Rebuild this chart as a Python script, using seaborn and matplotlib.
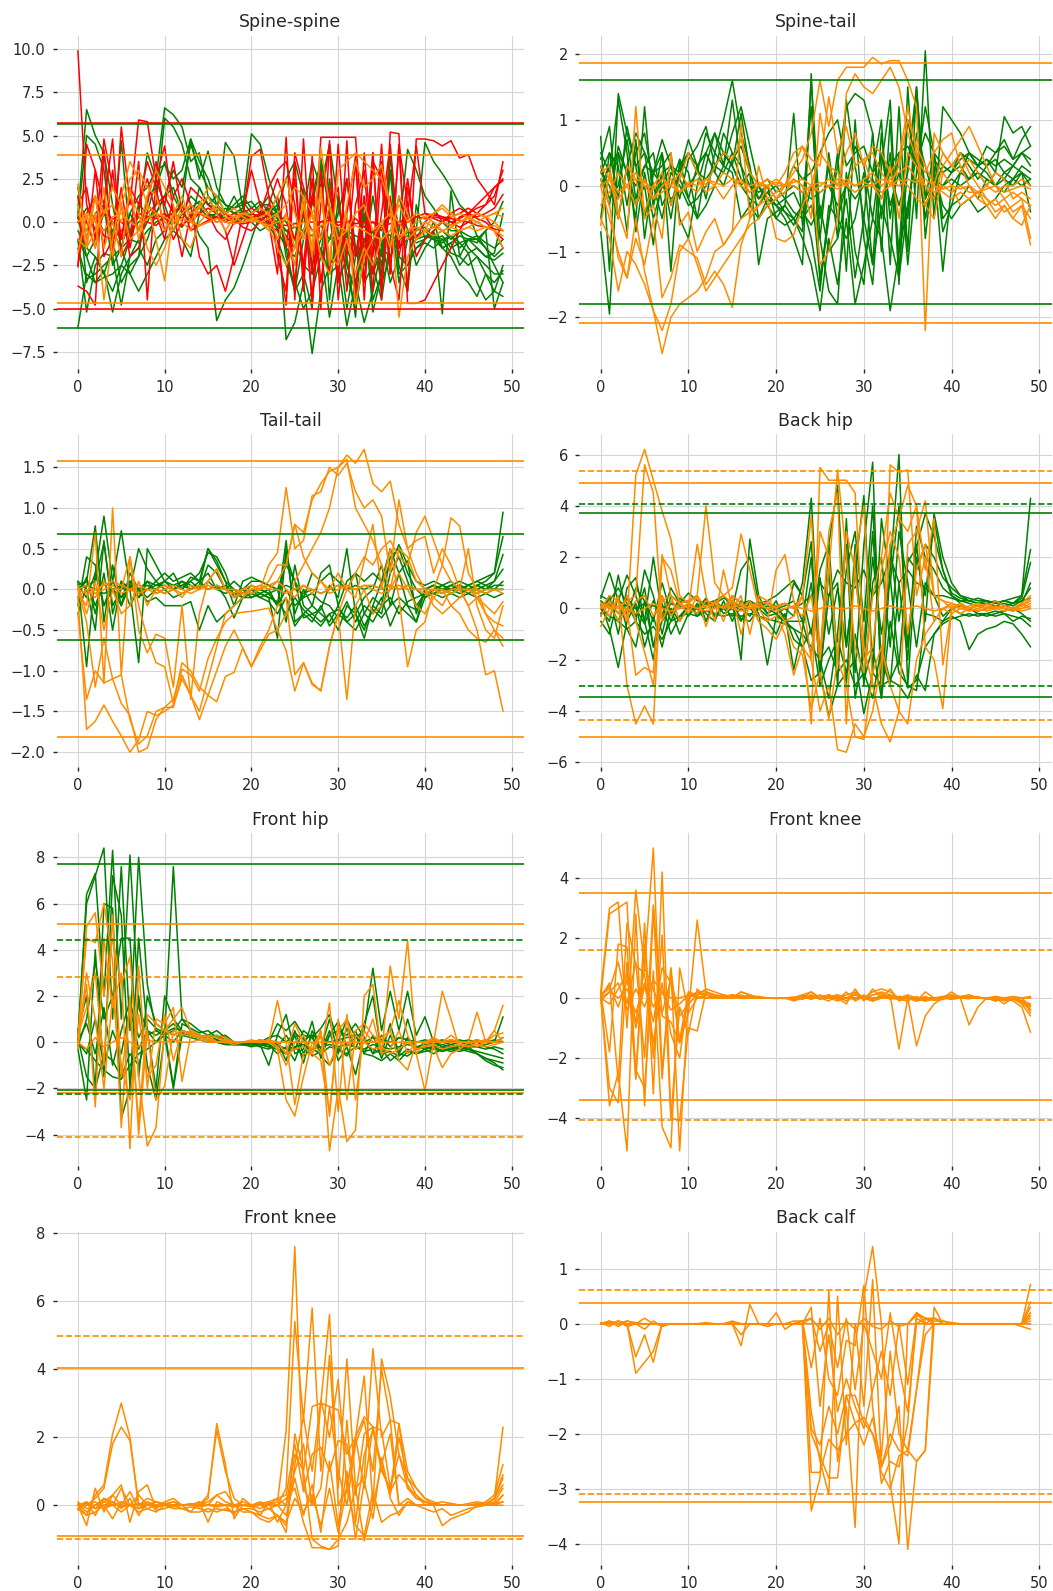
import numpy as np
import pandas as pd
import matplotlib
matplotlib.use("Agg")
import matplotlib.pyplot as plt
from matplotlib.ticker import MultipleLocator
import seaborn as sns

GREEN = "#008000"
RED = "#ff0000"
ORANGE = "#ff8c00"

TITLES = ["Spine-spine", "Spine-tail", "Tail-tail", "Back hip",
          "Front hip", "Front knee", "Front knee", "Back calf"]
Y_STEPS = [2.5, 1, 0.5, 2, 2, 2, 2, 1]

# ---------------- Spine-spine ----------------
SPINE_SPINE_GREEN = [
    [-6.1, -3.0, -3.5, -2.8, -5.2, -3.0, -2.0, -1.5, -2.5, -1.0,
     -0.5, 0.3, 1.0, 0.5, -0.8, -1.5, -5.7, -4.5, -3.8, -2.5,
     -1.0, 0.5, 0.8, 0.2, -6.8, -5.8, -3.5, -7.6, -4.0, -2.5,
     -1.5, -0.8, -2.0, -1.0, -3.0, -1.5, -2.0, -1.0, -0.8, -1.2,
     -1.0, -0.6, -1.5, -1.2, -2.5, -1.8, -3.5, -4.5, -4.0, -4.3],
    [0.5, 6.5, 5.0, 4.0, 1.0, -1.5, -3.0, -2.0, -1.0, 0.5,
     1.5, 3.0, 2.0, 4.5, 3.0, 2.0, 1.5, 1.0, 0.8, 1.2,
     0.5, 0.8, 1.5, 0.5, -1.0, -2.5, 0.5, 3.5, 2.0, 4.5,
     1.0, -1.5, -3.0, -1.0, -0.5, -2.0, 4.0, -1.0, 0.5, -0.5,
     4.6, 3.5, 2.8, 2.0, 1.0, 0.5, -0.8, -1.5, -2.5, -3.5],
    [1.5, -3.5, -2.0, -3.0, -1.5, 4.7, -1.0, 0.5, 4.0, 2.5,
     6.6, 6.2, 5.5, 3.5, 4.0, 1.5, 0.5, 4.6, 3.8, 0.8,
     5.1, 4.5, 2.5, 1.0, -1.5, -4.0, -3.0, -5.0, 3.7, 0.5,
     -3.5, -2.0, -5.5, 1.5, -4.5, -3.0, 3.9, -2.5, -4.0, 1.0,
     -1.0, -0.5, -5.3, 1.8, -2.0, -1.0, -1.5, -2.0, -1.8, 0.5],
    [-1.0, -5.2, -2.5, -1.8, -2.0, -4.8, -2.0, -1.0, 0.0, 1.0,
     6.0, 5.5, 4.5, 2.5, 2.0, 1.0, 0.8, 0.5, 1.5, 0.5,
     0.0, -0.5, -0.2, 0.8, 2.5, 3.5, 1.5, -3.0, -1.5, -5.5,
     -2.5, -0.5, -1.5, -2.5, -1.0, -3.5, -2.0, -0.5, 4.2, 3.0,
     1.5, 0.8, 0.0, -0.5, -0.5, -1.5, -2.0, -3.0, -4.0, -2.5],
    [0.2, 5.0, 4.5, 3.0, -1.0, -3.5, -2.5, -2.0, 1.5, 2.0,
     3.5, 1.5, 0.5, 0.0, 2.0, 1.0, 1.5, 0.5, 0.2, 0.0,
     0.5, 0.3, 0.8, -0.5, -1.5, -2.0, -0.5, 1.0, 3.5, 1.5,
     -0.5, -3.0, -5.0, -2.0, 1.5, -1.5, 0.8, -3.5, -1.0, -0.5,
     -0.3, -1.0, -1.2, -0.8, -1.5, -1.0, -1.0, -1.5, -2.0, -1.5],
    [-0.5, -1.5, -2.0, -3.0, -4.0, -2.5, -1.0, 1.0, 0.5, 2.5,
     1.0, -0.5, -1.0, -2.0, 0.5, 1.5, 1.0, 0.5, 0.8, 1.0,
     1.2, 0.5, -0.2, -1.0, -2.5, -3.5, -5.0, -4.0, -2.0, -1.0,
     0.5, 2.5, -1.5, -3.5, -2.5, -4.5, -1.0, 1.5, -0.5, -2.5,
     -1.5, -0.8, -0.5, -1.0, -0.5, -0.8, -1.0, -0.5, 0.0, 1.2],
    [0.0, 0.8, 0.2, -0.5, 0.0, -1.0, -0.5, 0.0, 0.3, 0.5,
     0.2, 0.0, -0.3, 0.5, 0.8, 0.3, 0.5, 0.2, 0.0, 0.3,
     0.5, 0.2, 0.0, -0.3, -0.5, -0.3, -0.5, -0.8, -0.2, -1.0,
     -0.8, -0.5, -0.8, -1.0, -0.5, -0.3, -0.8, -1.0, -0.5, -0.3,
     -0.5, -0.8, -1.0, -0.8, -1.2, -1.0, -0.8, -1.2, -1.5, -1.0],
    [-1.5, -3.3, -3.0, -2.5, -2.0, -1.5, -1.0, -1.2, -0.5, 0.0,
     0.3, 0.5, 1.0, 4.8, 2.5, 4.1, 2.0, 1.0, 0.5, 0.8,
     0.3, 0.0, 0.5, 1.0, -2.0, -4.0, -1.0, 1.5, 3.5, -4.5,
     1.5, -2.5, -4.0, 0.5, -2.5, -1.0, -3.5, -2.0, -2.5, -1.5,
     -1.0, 0.0, -1.5, -2.0, -3.0, -3.5, -4.3, -3.0, -3.5, -2.8],
    [2.0, -1.0, 0.5, 1.0, -2.5, -1.5, 0.5, 1.5, 2.0, 3.0,
     3.3, 2.5, 3.0, 4.8, 3.5, 2.5, 1.0, 0.5, 1.0, 1.5,
     0.8, 1.2, 0.6, 0.2, -0.5, -1.0, 2.0, 0.5, -2.0, 2.5,
     -1.0, -5.0, -2.0, 0.5, -5.2, -3.0, 3.0, -1.5, -0.5, -1.0,
     -0.8, -1.0, -1.5, -1.2, -0.8, -1.0, -1.2, -0.5, -5.0, -3.5],
    [-1.0, -2.0, -3.5, -3.2, -3.0, -2.5, -3.0, -4.0, -3.0, -2.0,
     -1.0, -0.5, 0.5, 1.5, 1.0, 0.5, 0.2, 0.5, 0.0, 0.3,
     0.5, 1.0, 1.0, 0.5, 0.0, -1.0, -2.5, -3.0, -1.5, -3.0,
     -2.5, -6.0, -3.5, -5.8, -4.0, -1.5, 3.0, -3.0, -2.5, -1.5,
     -1.2, -1.5, -1.0, -1.8, -2.0, -2.5, -2.0, -2.5, -3.0, -3.0],
    [0.3, -2.0, -1.0, 0.5, -0.5, -1.5, 0.5, -0.5, 1.0, 0.5,
     1.5, 2.0, 0.5, 0.8, 1.2, 0.5, 0.3, 0.8, 0.5, 0.6,
     0.2, 0.5, 0.3, 0.0, -0.8, -1.5, 0.5, -2.5, -1.0, 0.8,
     -2.0, -0.5, -3.5, -1.5, -0.5, -2.5, 1.0, -1.5, -1.0, -0.8,
     -0.5, -1.0, -0.8, -1.5, -1.2, -1.8, -1.5, -2.0, -2.2, -1.8],
]
SPINE_SPINE_RED = [
    [9.9, 1.0, -0.5, 0.5, 0.2, 0.0, -0.5, 0.3, 0.0, -0.2,
     0.3, 0.5, 0.2, 0.0, -0.2, 0.1, 0.3, 0.2, 0.0, -0.1,
     0.0, 0.2, 0.0, -0.1, -0.2, -0.1, 0.0, 0.0, 0.0, 0.1,
     0.0, 0.0, -0.1, 0.0, 0.0, -0.2, -0.1, 0.0, 0.2, 0.3,
     0.5, 0.4, 0.3, 0.2, 0.1, 0.0, -0.2, -0.3, -0.4, -0.5],
    [-3.7, -4.0, -4.8, 4.2, -2.0, 5.5, 1.0, 5.9, 5.8, 2.5,
     1.0, 3.5, 0.5, 1.0, -2.0, -3.0, -2.5, -4.0, -2.0, 0.5,
     3.0, 1.0, 0.0, -3.0, 4.9, -4.5, 4.8, -3.0, 4.9, 4.9,
     4.9, 4.9, 4.9, -2.0, 4.0, -4.5, 5.2, 5.1, -4.7, -4.7,
     -4.5, -3.5, -2.5, -1.5, -0.5, 0.5, 1.0, 1.5, 2.0, 2.4],
    [-2.6, 4.5, 3.0, 1.0, 4.8, -2.0, -1.0, 3.5, -4.5, 2.5,
     4.4, 0.5, -2.0, 0.5, 1.0, 0.5, -0.5, -1.0, 0.0, 0.5,
     0.2, 0.5, 0.3, -1.0, -4.8, 3.5, -4.0, 3.8, -5.0, 4.7,
     -3.5, 4.7, -4.5, 4.0, -2.0, 4.5, -3.0, 4.4, -4.0, 4.8,
     4.8, 4.7, 4.4, 4.7, 3.7, 3.9, 2.5, 1.8, 1.0, 3.5],
    [0.5, -1.5, 3.0, -2.0, -1.0, 2.0, -1.5, 1.0, 2.5, 0.5,
     -1.0, 1.5, 2.5, 1.0, 0.5, 0.8, 0.5, -0.5, -2.5, -1.0,
     0.5, 0.3, 1.0, 2.5, 1.0, -3.5, 1.5, -4.5, 3.0, -3.0,
     4.5, -2.0, 3.5, -3.5, 4.0, -4.0, 1.5, -2.0, 0.5, 4.4,
     0.5, 0.2, 0.0, -0.2, 0.3, 0.5, 0.8, 1.0, 1.5, 3.0],
    [1.0, 2.0, -1.0, 4.8, 2.0, 1.0, -2.0, -1.5, 0.5, 1.0,
     1.5, 0.5, 0.2, 0.0, 0.5, 0.3, 0.0, 0.2, 0.5, 0.3,
     3.8, 4.2, 1.5, -2.0, -4.0, 4.0, 2.0, -4.8, 1.0, 4.5,
     -4.5, 0.5, 3.8, -4.5, 3.5, 2.5, -3.0, 4.5, 1.0, -2.0,
     -1.0, -0.5, 0.0, 0.5, 0.8, 0.5, 0.2, 0.0, -0.5, -1.0],
    [0.0, -0.5, 0.3, -0.8, -1.0, -0.5, 0.0, 0.5, 0.3, 0.2,
     0.5, 0.0, -0.2, 0.3, 0.5, 0.2, 0.3, 0.0, -0.1, 0.2,
     0.3, 0.1, -0.2, -0.5, 0.5, -1.0, 0.5, -0.5, 0.0, 0.3,
     -0.2, 0.0, 0.2, -0.3, 0.0, -0.5, 0.3, -0.2, 0.0, 0.3,
     0.2, 0.3, 0.2, 0.0, 0.2, 0.5, 0.3, 0.5, 0.8, 1.6],
    [-2.5, 0.5, 1.5, -1.5, 3.0, -1.0, 1.5, -0.5, 1.0, 3.5,
     0.5, -1.0, 0.0, 2.0, 1.5, 1.0, 0.5, 0.0, 0.3, 0.5,
     0.8, 0.5, 2.0, 3.0, 3.5, 1.0, -2.5, 2.5, -3.5, 0.5,
     2.0, -4.0, 1.0, 3.0, -3.0, 0.5, 4.5, -1.5, 2.5, -1.0,
     0.0, 0.5, 0.3, 0.0, -0.3, 0.0, 0.5, 1.0, 2.0, 2.5],
    [1.5, 0.0, -1.5, 1.0, 0.0, -1.0, 2.0, 1.0, 3.5, 2.0,
     -0.5, 0.5, 1.0, -0.5, -0.2, 0.0, 0.3, 0.5, 0.2, -0.3,
     -0.5, 0.0, 0.5, 1.5, -1.5, 2.5, -3.0, 1.5, -1.0, 2.0,
     -1.5, 2.5, -2.0, 1.5, -4.0, 3.5, -2.5, -4.5, 2.0, -1.0,
     -0.5, -0.3, 0.0, 0.3, 0.5, 0.8, 0.5, 0.3, -0.5, -1.5],
]
SPINE_SPINE_ORANGE = [
    [2.2, -1.0, 0.5, -4.5, -1.0, 1.5, 3.5, 2.5, 1.0, -1.0,
     -3.4, 0.5, 1.5, 0.0, 1.0, 0.5, 0.8, 0.3, 0.0, 0.5,
     0.3, 0.0, -0.5, 0.5, -1.0, -2.5, 1.5, -1.5, 4.3, 1.0,
     -2.0, 1.0, 3.5, 2.0, 2.5, 3.3, 1.0, -5.5, -2.0, -1.0,
     -0.5, 0.5, 1.0, 0.5, 0.0, 0.3, 0.5, 0.3, 0.0, -0.5],
    [-1.8, 0.5, -1.5, 2.0, -2.0, 1.0, 2.5, 3.0, 2.0, 1.5,
     0.0, -0.5, 1.0, 0.5, 0.8, 1.5, 0.5, -0.5, 0.3, 0.5,
     0.5, 0.8, 0.5, -1.0, 0.5, -1.5, 1.0, -2.0, 2.0, -2.5,
     3.0, 3.5, 4.0, 3.5, 3.0, 2.5, 1.0, -1.0, -0.5, 0.0,
     0.3, 0.5, 0.8, 0.3, 0.5, 0.3, 0.0, -0.3, -0.5, -0.8],
    [0.5, -0.5, 1.5, -1.5, 0.0, -2.0, 2.0, -1.0, 1.0, 0.5,
     -0.5, 0.5, 0.0, -0.5, 1.0, 2.0, 1.5, 0.5, 0.3, 0.0,
     0.2, 0.0, -0.3, -1.5, -2.5, -1.5, -0.5, 0.5, -1.0, 1.0,
     -1.0, -0.5, 0.5, 1.0, -0.5, 0.0, -1.5, 1.5, 0.5, -1.0,
     -0.5, -0.3, 0.0, -0.2, 0.0, 0.2, 0.0, -0.3, -0.5, -1.5],
    [-1.0, -1.5, -0.5, 0.5, 1.0, 0.0, 1.5, 0.5, -1.5, -2.5,
     -1.5, 0.0, 0.5, 1.0, 0.5, 0.3, 0.0, 0.2, 0.3, 0.5,
     0.3, 0.0, 0.2, 0.5, 1.0, 2.0, 1.5, 0.5, -2.0, -3.0,
     -1.5, 0.5, -4.8, -2.0, -1.0, 0.0, 0.5, 0.0, -1.0, -0.5,
     0.0, -0.3, -0.5, -0.3, 0.0, 0.3, 0.5, 0.3, 0.5, 0.8],
    [0.0, 0.5, 0.0, -0.5, 0.3, 0.5, 0.0, -0.3, 0.2, 0.5,
     0.3, 0.0, 0.2, 0.0, -0.2, 0.0, 0.2, 0.0, -0.1, 0.0,
     0.1, 0.0, -0.2, 0.0, 0.2, -0.3, 0.0, -0.5, -0.2, 0.0,
     -0.3, -0.5, -0.2, -0.5, -0.8, -1.0, -0.5, -0.8, -0.5, -0.3,
     -0.5, -0.8, -0.5, -0.3, -0.5, -0.3, -0.5, -0.3, -0.2, -0.5],
    [1.0, -1.5, 1.5, 0.5, 2.0, 1.0, -1.0, -0.5, 1.5, 3.0,
     2.0, 1.0, -1.0, -1.5, 0.0, 0.5, 1.0, 0.5, 0.8, 0.3,
     0.0, 0.3, 0.5, 1.5, 2.5, 0.5, -1.0, 0.5, 1.5, -2.0,
     -2.5, -1.0, -3.0, -1.5, -2.5, -1.0, -0.5, 1.0, 0.0, 0.5,
     0.3, 0.0, -0.5, -0.8, -0.5, -0.3, 0.0, 0.3, 0.5, 0.3],
]

# ---------------- Spine-tail ----------------
SPINE_TAIL_GREEN = [
    [0.75, -1.3, 1.4, 0.8, 0.3, 0.5, -0.3, 0.2, -0.5, 0.3,
     0.5, 0.2, 0.8, 0.5, 1.0, 1.6, 0.8, 0.3, -0.5, -0.2,
     -0.3, -0.5, -0.8, -1.2, 1.7, -1.5, -0.5, 0.3, 1.2, 1.4,
     1.3, 0.8, -1.0, 1.0, -1.5, 1.5, -0.5, 2.05, -0.5, 1.2,
     1.0, 0.8, 0.5, 0.4, 0.3, 0.5, 0.6, 0.4, 0.7, 0.9],
    [-0.7, -1.95, 0.5, 0.2, -0.5, 1.2, -0.3, 0.5, -1.3, 0.4,
     0.2, -0.5, 0.3, 0.8, 0.3, 1.3, 0.3, -0.3, -0.5, -0.3,
     -0.5, -0.6, -0.5, -0.8, -1.2, -1.9, -0.8, -1.5, -0.5, -1.8,
     -1.2, -0.5, -0.8, -1.9, -1.0, -0.3, 0.5, -0.5, 0.3, -1.3,
     0.0, 0.2, 0.1, 0.3, 0.2, 0.0, 0.1, 0.3, 0.2, -0.4],
    [0.2, 0.5, -0.2, 0.9, 0.3, -0.5, 0.2, 0.5, -0.3, 0.2,
     0.7, 0.3, -0.2, 0.5, 0.3, 0.8, 1.2, 0.6, 0.0, -0.3,
     -0.2, -0.4, -0.5, -0.3, 1.2, -0.8, -1.6, -1.8, 0.2, -1.0,
     -1.5, 0.2, 1.0, -1.2, 1.2, -1.0, 1.5, -0.8, 0.4, 0.2,
     0.3, 0.5, 0.4, 0.3, 0.4, 0.3, 0.4, 0.3, 0.5, 0.3],
    [0.0, 0.3, 0.5, -0.3, 0.5, 0.8, 0.0, -0.5, 0.2, 0.0,
     -0.3, -0.2, 0.0, 0.3, 0.5, 0.3, 0.0, -0.2, -0.3, -0.1,
     0.0, -0.2, -0.4, -0.5, -0.3, -0.8, 0.5, -0.5, 0.0, 0.6,
     0.3, -0.5, 0.5, -0.3, 0.2, -0.5, 0.8, 0.3, -0.2, 0.0,
     0.2, 0.3, 0.1, 0.2, 0.0, 0.2, 0.1, 0.0, 0.2, 0.0],
    [0.5, 0.2, 1.3, 0.5, -0.7, 0.2, -0.5, 0.0, 0.3, -0.2,
     0.4, 0.6, 0.9, 0.3, 0.5, 0.3, 1.1, 0.2, -1.2, -0.5,
     -0.4, -0.3, 1.1, -0.6, 0.0, -1.4, -0.5, 0.5, -1.3, 1.0,
     -0.8, -1.5, 0.3, 1.3, -1.3, 0.3, 1.5, -0.2, 0.5, -0.7,
     -0.3, 0.2, 0.5, 0.3, 0.4, 0.2, 1.05, 0.8, 0.9, 0.6],
    [0.3, -0.2, 0.0, 0.7, -0.2, 0.3, 0.5, -0.3, 0.0, 0.4,
     -0.2, 0.3, 0.5, 0.2, 0.8, 0.5, 0.3, 0.0, -0.2, -0.1,
     -0.3, -0.2, -0.1, -0.4, -0.6, -0.3, -1.0, -0.8, -0.2, -1.4,
     -0.5, -1.2, -0.3, -0.8, -1.4, -0.3, 0.5, -0.5, 0.2, -0.3,
     -0.5, -0.3, -0.2, -0.4, -0.3, -0.2, 0.0, 0.1, 0.2, 0.1],
    [-0.5, 0.5, 0.3, -0.7, 0.7, -0.8, 0.2, 0.3, 0.5, -0.5,
     -0.8, 0.0, 0.5, 0.2, 0.0, 0.4, 0.6, 0.2, -0.2, 0.0,
     -0.5, -0.3, -0.5, -0.7, 1.6, -0.5, 0.3, -0.8, 1.3, 0.3,
     -0.5, 0.8, -0.5, 0.5, -1.0, 1.0, 0.3, -0.3, 0.0, 0.3,
     0.2, 0.5, 0.3, 0.1, 0.3, 0.4, 0.2, 0.3, 0.5, 0.4],
    [0.2, 0.0, -0.5, 0.3, -0.3, 0.0, -0.9, 0.2, 0.3, 0.1,
     -0.2, -0.5, -0.3, 0.0, 0.3, 0.2, -0.5, -0.3, 0.0, -0.2,
     -0.3, -0.4, -0.6, -0.3, -0.8, -1.6, -0.3, -0.5, -0.8, -0.5,
     0.2, -1.2, 0.8, -0.5, 0.5, -1.2, 0.2, 1.2, 0.5, -0.5,
     -0.3, -0.2, 0.0, -0.2, 0.1, 0.0, -0.1, 0.1, 0.0, 0.1],
    [0.4, 0.9, -0.5, 0.3, 0.8, 0.5, 0.2, 0.7, 0.3, 0.2,
     0.5, 0.3, 0.5, 0.8, 0.5, 0.3, 0.0, 0.2, 0.0, 0.1,
     -0.1, 0.0, 0.3, 0.1, 0.2, 0.5, 0.8, 1.0, 0.3, 0.5,
     0.6, 0.2, 0.4, 0.3, 0.5, 0.6, 0.3, 0.8, 0.5, 0.3,
     0.2, 0.4, 0.5, 0.3, 0.6, 0.5, 0.7, 0.4, 0.5, 0.6],
    [0.1, -0.3, 0.6, 0.2, 0.0, 0.3, 0.2, 0.0, -0.2, -0.1,
     0.0, 0.2, 0.1, 0.3, 0.2, 0.5, 0.1, 0.0, -0.1, 0.0,
     -0.2, -0.1, 0.0, -0.1, -0.2, -0.1, 0.0, -0.3, 0.0, -0.2,
     0.0, 0.1, -0.2, 0.2, -0.3, 0.2, 1.45, -0.2, 0.1, 0.0,
     0.1, 0.0, 0.1, 0.2, 0.1, 0.0, 0.2, 0.1, 0.3, 0.2],
]
SPINE_TAIL_ORANGE = [
    [0.3, 0.1, -0.2, 0.0, 0.2, 0.0, -0.2, -0.1, 0.0, 0.2,
     0.0, -0.1, 0.1, 0.0, 0.2, 0.1, 0.0, -0.1, 0.0, 0.1,
     0.0, 0.0, 0.1, 0.0, -0.1, 0.0, 0.1, 0.0, 0.1, 0.0,
     0.1, 0.2, 0.0, 0.1, 0.2, 0.3, 0.1, 0.0, -0.1, 0.0,
     -0.1, 0.0, -0.1, -0.1, 0.0, -0.1, 0.0, 0.0, 0.1, 0.0],
    [-0.5, -0.8, -1.6, -1.0, -1.2, -1.5, -1.9, -2.55, -2.0, -1.8,
     -1.7, -1.6, -1.4, -1.0, -0.9, -0.7, -0.5, -0.4, -0.3, -0.2,
     -0.1, 0.0, 0.2, 0.4, 0.8, 1.6, 0.9, 1.6, 1.8, 1.8,
     1.8, 1.95, 1.85, 1.9, 1.9, 1.6, 1.2, -2.2, 0.8, 0.5,
     0.3, 0.5, 0.2, 0.0, -0.2, -0.4, -0.3, -0.5, -0.3, -0.9],
    [0.0, -0.5, -1.0, -1.4, -0.5, -1.3, -1.9, -2.2, -1.8, -1.0,
     -0.8, -1.2, -1.6, -1.4, -1.2, -1.0, -0.8, -0.6, -0.5, -0.3,
     -0.2, 0.0, 0.3, 0.6, 0.2, -1.2, -1.0, -0.5, 1.4, 1.7,
     1.5, 1.4, 1.6, 1.8, 1.5, 0.8, 0.4, 0.2, 0.5, 0.7,
     0.8, 0.3, 0.0, -0.2, -0.3, -0.2, -0.4, -0.3, -0.2, -0.8],
    [0.2, 0.3, -0.4, -0.8, 1.2, -0.5, -0.3, -0.8, 0.5, -0.6,
     -0.4, -1.0, -0.7, -0.5, -0.9, -0.7, 0.95, -0.5, -0.3, 0.0,
     -0.2, -0.1, 0.1, 0.0, -0.5, 1.1, 0.3, 0.0, 0.5, 0.8,
     0.3, 0.6, 0.5, 0.2, 0.4, 1.2, 0.5, -0.3, -0.5, 0.2,
     0.0, -0.3, -0.2, -0.1, -0.3, -0.5, -0.3, -0.5, -0.6, -0.3],
    [-0.3, -0.1, 0.2, 0.0, -0.3, 0.1, -0.2, 0.0, 0.1, -0.1,
     0.0, 0.1, -0.1, 0.0, -0.2, 0.0, 0.1, -0.1, 0.0, 0.0,
     0.1, 0.0, 0.0, -0.1, 0.0, -0.1, 0.0, 0.1, 0.0, -0.1,
     0.0, 0.0, -0.1, 0.0, 0.1, 0.0, -0.2, -0.3, 0.0, -0.1,
     -0.2, -0.1, -0.2, -0.1, -0.2, -0.3, -0.2, -0.1, -0.2, -0.3],
    [0.1, -0.3, -1.1, -1.4, -0.8, -1.2, -0.5, -1.7, -1.4, -0.9,
     -1.0, -1.1, -1.5, -1.3, -1.5, -1.85, -0.9, -0.5, 0.3, -0.2,
     -0.8, -0.85, -0.75, -0.3, 0.0, 0.5, 0.3, 0.2, 0.0, 0.3,
     0.4, 0.0, -0.2, 0.3, -0.5, 0.5, 0.3, 0.0, -0.2, 0.3,
     0.5, 0.7, 0.9, 0.6, 0.3, 0.0, -0.2, -0.4, -0.3, -0.5],
    [-0.6, 0.2, -0.5, 0.3, 0.1, -0.4, 0.0, 0.2, -0.3, 0.1,
     0.5, 0.2, 0.0, 0.3, 0.5, 0.4, 0.7, 0.2, 0.0, 0.1,
     0.0, 0.2, 0.5, 0.6, 0.4, 0.3, 1.35, 0.5, 0.9, 0.3,
     0.4, 0.5, 0.2, 0.0, 0.3, 1.0, 0.6, 0.3, 0.0, 0.5,
     0.3, 0.2, 0.4, 0.2, 0.0, 0.2, 0.1, -0.2, -0.1, -0.2],
    [0.0, 0.1, -0.1, 0.0, 0.1, 0.05, -0.05, 0.1, 0.0, -0.1,
     0.05, 0.0, 0.1, 0.05, 0.0, 0.1, 0.05, 0.0, 0.05, 0.0,
     0.05, 0.0, 0.05, 0.1, 0.0, 0.05, 0.0, -0.05, 0.05, 0.0,
     0.05, 0.0, 0.1, 0.05, 0.0, 0.1, 0.05, 0.1, 0.0, -0.05,
     0.0, -0.05, 0.0, -0.1, -0.05, 0.0, -0.1, -0.05, 0.0, -0.05],
]

# ---------------- Tail-tail ----------------
TAIL_TAIL_GREEN = [
    [0.1, -0.95, 0.2, 0.9, 0.1, -0.1, 0.05, 0.0, 0.1, -0.05,
     0.0, 0.05, 0.1, 0.0, 0.05, 0.5, 0.3, 0.1, 0.0, -0.05,
     0.05, 0.0, -0.05, -0.2, 0.6, -0.4, -0.3, -0.2, -0.3, -0.4,
     -0.2, -0.4, -0.3, -0.5, -0.2, -0.3, 0.2, 0.4, 0.1, -0.2,
     -0.05, 0.0, 0.05, 0.0, 0.05, 0.0, 0.05, 0.1, 0.2, 0.95],
    [-0.2, 0.4, 0.3, -0.2, 0.1, 0.72, 0.0, -0.9, 0.5, 0.3,
     0.1, 0.2, 0.0, 0.1, 0.2, 0.45, 0.4, 0.2, -0.1, 0.0,
     0.1, 0.1, 0.05, 0.0, -0.4, 0.3, -0.2, -0.3, -0.4, -0.3,
     -0.5, -0.2, -0.3, -0.6, -0.2, 0.1, 0.5, 0.2, -0.2, -0.4,
     0.0, 0.05, 0.0, 0.05, 0.1, 0.05, 0.1, 0.15, 0.2, 0.65],
    [0.0, 0.1, 0.78, -0.4, 0.3, -0.2, 0.2, 0.0, -0.1, 0.0,
     0.1, 0.0, 0.05, 0.1, 0.0, 0.3, 0.2, 0.0, 0.1, 0.0,
     -0.1, -0.05, -0.1, -0.6, 0.5, -0.3, 0.0, -0.2, 0.2, 0.3,
     -0.2, 0.1, 0.2, -0.3, -0.1, -0.2, 0.4, 0.5, 0.2, 0.0,
     -0.1, 0.0, -0.05, 0.0, -0.05, 0.0, -0.05, 0.0, 0.1, 0.43],
    [0.05, -0.1, 0.2, -0.2, 0.0, -0.2, 0.05, -0.1, 0.0, 0.1,
     0.0, -0.1, -0.05, 0.0, 0.1, 0.2, 0.0, -0.05, 0.0, -0.1,
     0.0, -0.1, -0.15, -0.3, -0.1, -0.45, -0.3, -0.4, -0.2, -0.45,
     -0.3, -0.4, -0.5, -0.3, -0.4, -0.2, -0.1, -0.3, -0.15, -0.1,
     -0.05, 0.0, 0.05, 0.0, 0.05, 0.0, 0.05, 0.0, 0.05, 0.05],
    [0.1, 0.0, -0.5, 0.6, -0.3, 0.1, 0.0, 0.5, 0.25, 0.1,
     0.2, 0.1, 0.15, 0.2, 0.1, 0.5, 0.35, 0.1, -0.2, 0.1,
     0.15, 0.1, 0.05, 0.0, 0.3, 0.1, -0.1, 0.2, 0.1, 0.2,
     0.1, 0.0, 0.2, 0.1, 0.2, 0.1, 0.3, 0.55, 0.3, 0.1,
     0.05, 0.1, 0.05, 0.1, 0.0, 0.05, 0.1, 0.05, 0.1, 0.25],
    [-0.1, 0.15, -0.3, 0.2, -0.5, 0.1, -0.2, 0.0, -0.15, -0.1,
     -0.2, -0.2, -0.2, -0.15, -0.5, -0.2, -0.4, -0.3, -0.2, -0.1,
     -0.05, -0.1, -0.05, -0.2, 0.0, -0.2, -0.1, -0.05, -0.15, -0.2,
     -0.35, -0.15, -0.4, -0.2, -0.3, -0.1, -0.45, -0.2, -0.3, -0.4,
     -0.1, -0.05, -0.1, -0.05, -0.1, -0.05, -0.1, -0.05, -0.1, -0.05],
    [0.0, 0.05, 0.0, -0.05, 0.0, 0.05, 0.0, -0.05, 0.0, 0.05,
     0.05, 0.0, 0.05, 0.0, 0.05, 0.0, 0.05, 0.0, -0.05, -0.05,
     -0.05, 0.0, -0.05, 0.0, 0.05, 0.0, -0.05, 0.0, -0.05, 0.0,
     0.05, 0.0, 0.05, 0.0, 0.05, 0.0, 0.05, 0.0, 0.05, 0.0,
     0.0, 0.05, 0.0, 0.05, 0.0, 0.05, 0.0, 0.05, 0.0, 0.0],
    [-0.3, 0.05, 0.1, 0.57, -0.2, 0.0, 0.1, -0.1, 0.1, 0.05,
     0.1, 0.05, 0.0, 0.15, 0.1, 0.0, 0.05, -0.1, -0.35, -0.1,
     0.0, -0.05, 0.0, -0.2, 0.4, 0.1, -0.35, -0.3, -0.25, 0.05,
     -0.1, 0.5, -0.3, -0.1, 0.0, 0.3, -0.2, 0.2, 0.35, -0.3,
     0.0, 0.05, 0.0, 0.0, 0.05, 0.0, 0.05, 0.0, 0.0, 0.1],
    [0.05, 0.1, -0.2, 0.1, 0.0, -0.1, 0.1, 0.0, 0.05, 0.0,
     -0.05, 0.0, 0.1, 0.05, 0.0, 0.1, 0.0, 0.05, -0.05, -0.1,
     -0.1, -0.05, -0.1, -0.15, -0.3, -0.1, -0.25, -0.35, -0.45, -0.3,
     -0.25, -0.35, -0.2, -0.45, -0.25, -0.35, -0.2, -0.1, -0.2, -0.25,
     -0.05, -0.05, 0.0, -0.05, 0.0, -0.05, 0.0, -0.05, 0.0, 0.0],
]
TAIL_TAIL_ORANGE = [
    [-0.1, -1.72, -1.62, -1.42, -1.62, -1.8, -2.0, -1.85, -1.5, -1.55,
     -1.5, -1.42, -1.1, -1.3, -1.6, -1.3, -1.0, -0.7, -0.5, -0.72,
     -0.95, -0.75, -0.55, -0.5, -0.3, 0.1, 0.3, 0.5, 0.7, 1.0,
     1.5, 1.65, 1.55, 1.72, 1.3, 1.2, 1.33, 0.8, 0.5, 0.2,
     0.0, -0.2, -0.3, -0.2, -0.3, -0.5, -0.6, -0.65, -0.5, -0.7],
    [-0.3, -1.35, -1.0, -1.15, -1.1, -1.05, -1.6, -1.9, -1.8, -1.5,
     -1.45, -1.35, -0.98, -1.05, -1.25, -0.85, -0.6, -0.4, -0.3, -0.28,
     -0.27, -0.25, -0.23, -0.5, -0.75, -1.25, -0.9, -1.15, -1.25, -0.7,
     -0.3, 0.0, 0.2, 0.4, 0.3, 0.5, 0.6, 0.4, 0.3, 0.7,
     0.9, 0.6, 0.3, 0.1, 0.0, -0.2, -0.5, -1.05, -1.0, -1.5],
    [-0.05, -0.2, 0.7, -1.15, 1.0, -1.05, 0.4, -0.5, -0.78, -0.55,
     -0.6, -1.2, -0.2, -1.35, -0.3, 0.1, 0.25, 0.0, -0.1, 0.0,
     0.05, 0.0, 0.3, 0.45, 1.25, 0.5, 0.6, 1.15, 1.2, 1.5,
     1.4, 1.55, 1.2, 1.0, 1.1, 0.9, 0.2, 1.1, 0.5, 0.6,
     0.65, 0.2, 0.5, 0.3, 0.0, -0.2, -0.1, -0.3, -0.4, -0.45],
    [0.0, -0.4, -1.2, -0.6, -1.1, -1.4, -1.55, -2.0, -1.95, -1.6,
     -1.45, -1.45, -1.05, -1.3, -1.5, -1.1, -0.7, -0.3, -0.2, -0.1,
     0.0, 0.05, 0.0, 0.1, 0.3, 0.8, 0.7, 1.1, 1.3, 1.45,
     1.5, 1.6, 1.0, 0.8, 0.6, 0.3, 0.0, 0.5, 0.4, 0.1,
     0.0, -0.1, 0.0, -0.2, -0.1, 0.0, -0.1, -0.2, -0.3, -0.15],
    [0.0, 0.05, -0.05, 0.0, 0.05, -0.05, 0.0, 0.05, 0.0, -0.05,
     0.0, 0.05, 0.0, -0.05, 0.0, 0.05, 0.0, 0.0, -0.05, 0.0,
     0.0, 0.05, 0.0, 0.0, -0.05, 0.0, 0.05, 0.0, -0.05, 0.0,
     0.05, 0.0, 0.0, 0.05, 0.0, -0.05, 0.0, 0.05, 0.0, 0.0,
     -0.05, 0.0, 0.0, -0.05, 0.0, 0.0, -0.05, 0.0, 0.0, -0.05],
    [0.05, -0.3, 0.1, -0.5, 0.0, -0.3, -0.2, 0.1, -0.2, 0.0,
     0.05, 0.0, -0.1, 0.05, 0.0, 0.1, 0.25, 0.0, -0.1, -0.05,
     0.0, 0.0, 0.1, 0.3, 0.3, 0.8, 0.4, 0.2, 0.1, 0.0,
     0.2, 0.0, -0.1, 0.35, 0.8, 0.0, 0.5, -0.1, -0.95, -0.5,
     -0.4, 0.0, 0.3, 0.88, 0.78, 0.2, 0.0, -0.3, -0.5, -0.6],
    [-0.1, 0.0, -0.1, 0.1, 0.0, 0.0, 0.4, -0.2, -0.6, -0.9,
     -0.95, -1.4, -0.9, -1.0, -1.2, -1.3, -1.38, -1.07, -1.02, -0.72,
     -0.95, -0.7, -0.5, -0.2, -0.1, -1.05, -0.9, -1.17, -1.24, -0.7,
     -0.3, -1.35, -0.2, 0.0, -0.3, -0.2, 0.0, 0.2, 0.0, -0.2,
     -0.3, -0.1, -0.2, 0.0, 0.0, 0.5, -0.2, -0.5, -0.6, -0.2],
    [0.0, -0.05, 0.0, 0.05, 0.1, 0.05, 0.0, -0.05, 0.0, 0.0,
     -0.05, 0.0, -0.05, 0.0, 0.05, 0.0, 0.05, 0.0, 0.0, -0.05,
     -0.05, 0.0, 0.05, 0.1, 0.0, -0.1, 0.05, -0.05, 0.1, -0.05,
     0.0, 0.05, 0.0, 0.05, 0.05, 0.0, 0.05, 0.0, 0.05, 0.0,
     0.0, 0.0, -0.05, 0.0, 0.0, 0.0, 0.0, -0.05, 0.0, 0.0],
]

# ---------------- Back hip ----------------
BACK_HIP_GREEN = [
    [0.4, 1.4, 0.3, 1.3, 0.5, -0.5, 2.0, -0.3, 0.8, 0.2,
     0.3, 0.5, -0.5, 0.2, 0.4, 0.3, -2.0, 2.7, 0.5, -0.2,
     0.3, -0.5, 1.0, 0.5, 2.6, -2.8, 1.5, -3.0, 3.5, -2.5,
     2.5, 5.7, -3.5, 1.5, 6.0, -3.0, 2.0, 0.5, 3.5, 1.5,
     0.5, 0.3, 0.2, 0.1, 0.2, 0.3, 0.1, 0.2, 0.5, 4.3],
    [0.0, -0.5, 1.3, -0.3, 0.8, 0.3, -0.5, 1.0, -0.2, 0.4,
     0.2, -0.3, 0.1, 0.3, 0.0, 0.5, 0.2, 0.3, 0.1, 0.0,
     -0.2, 0.0, -0.3, 1.0, 4.3, -2.0, 2.5, 4.8, -1.5, 1.5,
     4.4, -2.5, 3.5, 1.0, 4.0, -1.5, 2.5, -0.5, 3.7, 2.0,
     1.0, 0.5, 0.3, 0.4, 0.3, 0.2, 0.3, 0.4, 0.5, 2.3],
    [0.2, -0.8, -2.3, -0.5, 0.2, -1.5, -0.3, -1.5, 0.0, -1.0,
     -0.2, 0.0, -0.5, 0.3, -0.2, 0.0, -0.5, 0.3, -0.2, -2.2,
     -0.3, -0.5, -0.8, -1.5, -2.8, -2.5, -4.2, -3.0, -2.5, -2.0,
     -4.1, -2.5, -3.0, -2.8, -3.0, -3.5, -2.6, -3.2, -1.0, -0.5,
     -0.3, -0.5, -1.6, -1.0, -0.8, -0.7, -0.5, -0.6, -1.0, -1.5],
    [-0.3, 0.5, -1.0, 0.8, 1.2, -0.5, -2.0, 0.5, -0.5, 0.3,
     -0.3, 0.2, -0.2, -0.5, 0.3, -0.5, 0.3, 0.0, -0.3, -0.5,
     -1.0, -0.2, -2.4, -0.8, 1.0, -2.0, -3.5, -1.0, 2.5, -3.5,
     -1.5, 3.0, -2.0, -3.0, 1.0, -2.0, 3.2, 2.0, 1.5, 0.8,
     0.5, 0.2, 0.0, -0.2, -0.3, -0.2, -0.1, 0.0, -0.2, -0.5],
    [0.5, 0.3, 0.8, 0.2, -0.5, 1.5, 0.5, -1.0, 0.5, 0.2,
     0.6, 0.3, 0.2, 0.3, 0.5, 0.0, 1.5, 2.0, 0.2, 0.3,
     0.5, 0.8, 1.1, 0.5, -1.0, 1.5, 2.5, -2.0, 1.5, 3.0,
     -0.5, 4.0, -2.5, 2.5, -0.5, 2.0, 1.5, 2.5, 2.0, 1.2,
     0.8, 0.5, 0.4, 0.3, 0.3, 0.2, 0.3, 0.2, 0.4, 1.8],
    [0.0, -0.3, -0.5, -0.8, -0.5, -1.0, -0.7, -1.2, -0.5, -0.3,
     -0.2, -0.3, -0.1, -0.2, -0.3, -0.2, -0.3, -0.2, -0.3, -0.4,
     -0.5, -0.6, -0.8, -1.0, -1.5, -2.0, -1.5, -2.5, -2.0, -3.0,
     -2.5, -3.5, -1.5, -2.8, -2.0, -3.1, -2.8, -1.5, -1.0, -0.6,
     -0.4, -0.3, -0.2, -0.3, -0.2, -0.1, -0.2, -0.3, -0.4, -0.7],
    [-0.5, -1.0, 0.5, -0.8, -1.5, 0.3, -1.5, 0.2, -1.0, -0.3,
     0.1, -0.2, 0.3, -0.3, 0.1, 0.2, -0.4, -0.5, 0.0, -0.3,
     -0.2, -0.5, -0.5, -0.5, 2.0, -2.5, 0.5, 1.0, -3.0, 2.5,
     -3.0, 1.0, 2.0, -1.5, 3.0, 1.0, -1.5, 1.0, 0.5, -0.3,
     0.0, 0.1, 0.0, -0.1, 0.0, 0.1, 0.0, -0.1, 0.2, 1.0],
    [0.3, 0.0, 0.3, 0.1, 0.0, 0.2, 0.1, 0.0, 0.2, 0.1,
     0.0, 0.1, 0.2, 0.1, 0.0, 0.2, 0.1, 0.0, 0.1, 0.2,
     0.1, 0.2, 0.0, 0.2, 0.5, 1.0, 0.5, 1.5, 1.0, 0.8,
     1.5, 0.5, 1.0, 2.0, 1.0, 1.5, 1.0, 0.8, 0.5, 0.5,
     0.4, 0.3, 0.3, 0.2, 0.3, 0.2, 0.3, 0.2, 0.3, 0.4],
    [-0.2, 0.2, -0.5, 0.5, -0.3, 0.8, -1.5, -0.5, 0.0, -0.5,
     0.2, 0.0, 0.4, -0.3, 0.0, -0.3, 0.0, -0.3, 0.2, -0.2,
     0.0, -0.3, -1.2, -1.5, -0.8, -3.0, -2.0, -1.2, -2.5, -1.0,
     -2.8, -1.5, -3.5, -0.5, -2.5, -3.0, -3.2, -0.2, -0.3, -0.5,
     0.0, -0.2, -0.3, -0.2, -0.2, -0.3, -0.2, -0.5, -0.3, -0.4],
    [0.1, 0.3, -0.2, 0.4, 0.0, -0.6, 0.3, -0.4, 0.2, 0.0,
     0.1, 0.0, 0.2, 0.0, 0.1, 0.0, 0.1, 0.0, 0.0, 0.1,
     0.0, 0.1, 0.3, -0.5, -1.8, 1.2, -1.0, 0.8, -1.5, 1.5,
     -2.0, 2.0, -1.0, 1.2, -2.2, 1.8, 2.4, 3.7, 2.8, 1.5,
     0.6, 0.4, 0.3, 0.2, 0.2, 0.1, 0.2, 0.1, 0.3, 0.8],
]
BACK_HIP_ORANGE = [
    [-0.7, 0.0, 0.3, -0.5, 5.2, 6.2, 5.0, 3.8, 2.7, 0.5,
     0.2, 0.5, 0.0, 0.2, 0.0, 0.3, 0.1, 0.0, 0.2, 0.0,
     0.1, 0.2, 0.0, 0.5, 3.6, -2.0, 3.0, 4.5, -4.5, 2.0,
     4.0, -3.0, -3.0, 5.6, 5.3, 5.4, 0.5, 2.0, -0.5, 0.0,
     0.2, 0.1, 0.0, 0.2, 0.1, 0.0, 0.1, 0.0, 0.1, 0.3],
    [0.2, -0.3, 0.5, -3.0, -4.5, -3.8, -4.5, 2.0, 1.5, 0.2,
     0.3, 0.5, 4.0, 1.0, 0.5, 0.8, 2.9, 1.5, 0.0, -0.5,
     1.5, 2.1, 0.3, -1.0, -4.5, 5.5, 5.0, 5.0, 5.0, 4.5,
     -1.5, -3.0, -4.5, -5.2, -4.0, 2.5, 3.0, 4.2, 0.5, 0.3,
     0.0, 0.2, -0.1, 0.0, 0.2, 0.0, 0.1, 0.0, 0.2, 0.0],
    [0.0, 0.1, -0.5, 0.0, -2.6, -2.3, -2.5, 2.1, 0.5, -0.5,
     0.0, 2.5, 0.5, -0.5, 1.5, 0.0, 0.5, -1.0, 0.5, 0.3,
     0.0, -0.5, -0.3, 0.5, -2.0, -4.0, -3.0, -5.5, -5.6, -4.5,
     -5.0, -4.0, -2.0, 2.5, 3.5, 3.0, 4.0, -1.5, -2.0, -3.9,
     0.0, 0.2, 0.0, -0.1, 0.0, 0.1, 0.0, -0.1, 0.0, 0.2],
    [0.1, 0.2, 0.0, 0.3, 0.5, 5.6, 4.5, -0.5, 0.3, 0.0,
     0.2, 0.0, 0.1, 0.2, 0.0, 0.5, 0.2, 0.0, 0.3, 0.2,
     0.0, 0.2, 0.0, -0.3, 0.5, -2.0, 1.5, 5.4, 2.0, -1.5,
     -2.5, 0.5, 2.0, 4.5, 3.5, 4.8, 4.0, 1.5, 3.5, -2.2,
     0.0, -0.2, 0.0, 0.1, 0.0, 0.0, 0.1, 0.0, 0.1, 0.4],
    [0.2, 0.0, 0.1, 0.0, -0.2, 0.0, 0.2, 0.0, -0.1, 0.0,
     0.1, 0.0, -0.1, 0.0, 0.1, 0.0, -0.1, 0.0, 0.1, 0.0,
     -0.1, 0.0, 0.1, 0.0, -0.1, 0.0, 0.1, 0.0, 0.0, 0.1,
     0.0, -0.1, 0.0, 0.1, 0.0, 0.0, 0.1, 0.0, -0.1, 0.0,
     0.1, 0.0, 0.0, 0.1, 0.0, 0.0, 0.1, 0.0, 0.0, 0.1],
    [-0.3, 0.3, -0.2, 0.5, -0.5, -1.7, -3.0, 0.5, -0.3, 0.2,
     -0.2, 0.5, -0.7, 0.3, -0.5, 0.5, -1.0, 0.2, -0.5, -0.8,
     -1.2, -0.5, -1.5, -1.8, -3.9, -2.5, -4.3, -2.0, -3.0, -5.0,
     -5.1, -2.5, -1.5, -3.0, -4.0, -4.5, -2.0, -1.0, -0.5, 0.0,
     -0.2, 0.0, -0.1, 0.0, -0.1, 0.0, -0.1, 0.0, -0.1, 0.0],
    [0.0, 0.5, 0.3, -0.3, 0.3, 0.5, -0.3, 0.3, 0.5, 0.2,
     0.0, -0.2, 0.3, 0.2, 0.5, 0.2, 0.0, 0.3, -0.3, -0.5,
     -0.3, -1.0, -2.6, -1.5, -2.0, 3.0, 2.0, -2.0, 3.0, 1.5,
     -2.0, -1.5, 1.5, 3.0, 2.0, -1.0, 1.5, 2.5, 0.5, 0.3,
     0.2, 0.0, 0.1, 0.2, 0.0, 0.3, 0.1, 0.0, 0.2, 0.5],
]

# ---------------- Front hip ----------------
FRONT_HIP_GREEN = [
    [0.0, 6.4, 7.3, 2.0, 8.3, 1.0, 8.1, 1.5, 0.5, 0.3,
     0.5, 0.3, 0.5, 0.3, 0.2, 0.1, 0.0, -0.1, -0.1, -0.1,
     -0.1, -0.1, 0.0, 0.8, 0.5, 0.9, 0.3, 0.2, 0.6, 1.2,
     0.0, 1.0, 0.2, 0.5, 3.2, 0.5, 2.2, 0.5, 2.2, 0.3,
     1.1, 0.0, -0.2, -0.1, -0.2, -0.1, -0.2, -0.1, 0.0, 1.1],
    [0.3, 6.0, 7.2, 8.4, 1.0, 7.6, 0.5, 8.0, 2.5, 0.5,
     0.3, 7.6, 1.0, 0.5, 0.3, 0.2, 0.1, 0.0, -0.1, -0.1,
     -0.1, -0.1, -0.1, -0.5, -0.2, -0.8, 0.2, -0.6, -0.4, 0.5,
     -0.8, -0.2, -1.4, 0.2, -0.5, -0.3, -0.8, -0.5, -0.6, -0.3,
     -0.2, -0.3, -0.4, -0.2, -0.3, -0.2, -0.5, -0.8, -1.0, -1.1],
    [-0.3, -2.5, 4.0, -1.5, 7.2, 5.5, -2.0, 4.5, 0.5, -2.0,
     2.0, 1.0, 0.5, 0.3, 0.2, 0.1, 0.0, 0.0, -0.1, 0.0,
     -0.1, 0.0, -0.1, -0.3, -0.5, 0.3, -0.9, 0.5, -0.3, 1.0,
     -0.5, 0.6, -0.3, 0.8, 2.0, -0.5, 0.8, -0.5, 1.0, -0.3,
     0.0, -0.1, 0.0, -0.1, 0.0, -0.1, 0.0, -0.2, -0.3, -0.5],
    [0.5, 2.0, -2.0, 6.0, 5.8, -3.3, -2.0, 2.0, -1.0, -2.5,
     0.3, -2.0, 0.3, 0.2, 0.1, 0.0, 0.0, -0.1, -0.1, -0.1,
     -0.1, -0.1, -1.0, 0.3, 1.2, -0.5, -0.3, 0.9, -0.7, 0.3,
     0.9, -0.2, 0.5, -0.5, 0.3, -0.7, 0.3, -0.5, 0.2, -0.2,
     -0.3, -0.2, -0.4, -0.3, -0.4, -0.3, -0.5, -0.7, -0.8, -0.9],
    [-0.2, 1.0, 3.5, 1.0, 2.0, 4.5, 4.5, -1.5, 2.0, 0.8,
     0.5, 0.8, 0.4, 0.3, 0.2, 0.3, 0.2, 0.1, 0.0, -0.1,
     0.0, 0.1, 0.0, -0.2, 0.3, -0.3, 0.5, 0.2, -0.5, 0.3,
     0.5, 0.3, 0.8, 0.2, -0.5, 0.3, -0.2, 0.2, 0.1, 0.0,
     0.0, 0.1, 0.0, 0.1, 0.0, 0.1, 0.0, 0.1, 0.0, 0.2],
    [0.2, -1.5, -2.0, -0.5, -0.8, -1.5, -0.5, -1.0, 0.3, 0.5,
     0.3, 0.5, 1.0, 0.8, 0.5, 0.3, 0.5, 0.2, 0.0, -0.1,
     -0.2, -0.1, -0.2, -0.3, -0.5, -0.2, -0.6, -0.3, -0.5, -0.2,
     -0.3, -0.5, -0.2, -0.4, -0.3, -0.5, -0.4, -0.6, -0.3, -0.5,
     -0.4, -0.3, -0.2, -0.3, -0.2, -0.3, -0.4, -0.5, -0.6, -0.7],
    [0.0, -0.5, 1.0, -1.0, 0.5, -0.5, 1.5, -0.3, 0.5, 0.0,
     0.5, -1.9, 0.8, 0.6, 0.4, 0.5, 0.2, 0.3, 0.0, 0.0,
     -0.1, 0.0, 0.2, 0.3, 0.0, 0.4, 0.1, 0.3, 0.2, 0.0,
     0.1, 0.2, 0.3, 0.0, 0.2, 0.1, 0.0, 0.2, 0.1, 0.0,
     0.1, 0.0, 0.1, 0.0, 0.1, 0.0, 0.1, 0.0, 0.1, 0.0],
    [-0.1, -0.3, -0.8, -1.2, -1.5, -1.6, -1.0, -0.5, -0.3, 0.0,
     0.3, 0.0, 0.5, 0.3, 0.2, 0.3, 0.1, 0.0, -0.1, -0.1,
     -0.1, -0.2, -0.3, 0.0, -0.8, 0.5, -0.5, 0.3, -0.6, -1.0,
     -0.3, -0.6, 0.3, -0.5, -0.6, -0.8, -0.5, -0.8, -0.4, -0.5,
     -0.3, -0.5, -0.3, -0.4, -0.3, -0.4, -0.5, -0.7, -0.9, -1.2],
    [0.1, 0.8, -0.5, 1.5, -1.0, 0.5, 1.8, 0.2, 1.0, 0.6,
     0.4, 0.6, 0.5, 0.4, 0.3, 0.2, 0.3, 0.1, 0.0, -0.1,
     -0.1, -0.1, -0.2, -0.1, -0.3, -0.2, -0.1, -0.3, -0.2, -0.1,
     -0.2, -0.1, -0.2, -0.3, -0.1, -0.2, -0.3, -0.2, -0.1, -0.2,
     -0.1, -0.2, -0.1, -0.2, -0.1, -0.2, -0.2, -0.3, -0.2, -0.3],
]
FRONT_HIP_ORANGE = [
    [-0.3, 5.0, 5.6, 2.0, 4.5, 2.5, 3.7, -1.5, -4.5, -3.7,
     0.5, 1.0, 1.5, 0.5, 0.3, 0.2, 0.0, 0.0, -0.1, 0.0,
     0.0, 0.0, 0.0, 1.8, 0.0, -2.7, -0.5, -0.5, 0.5, -4.7,
     -2.0, -4.3, -3.8, 2.0, 2.5, -0.5, 3.3, 1.0, 4.4, -0.5,
     -2.1, 0.0, 2.2, 1.0, -0.3, 0.0, 1.3, 0.0, 0.5, 1.6],
    [0.2, 4.5, 4.3, 6.0, 3.5, -3.7, 2.0, -4.0, 0.5, -2.5,
     -1.9, 0.5, 0.3, 0.5, 0.2, 0.3, 0.2, 0.1, 0.0, 0.0,
     0.0, 0.0, 0.0, -0.3, -2.5, -3.2, -1.5, 0.0, -0.5, 1.7,
     -3.0, 1.2, -2.5, 0.5, 0.0, 0.2, 0.5, -0.8, -1.2, 0.0,
     0.0, -0.2, -1.1, -0.5, -0.3, 0.0, -0.2, 0.0, 0.3, 0.4],
    [0.0, 2.5, -2.8, 4.5, 1.5, 3.0, -4.6, 3.3, -2.0, 1.0,
     0.8, 1.5, -1.7, 0.3, 0.2, 0.1, 0.0, 0.0, 0.0, 0.0,
     0.1, 0.0, 0.1, 0.0, -0.5, 0.8, 0.0, -0.3, 0.5, -3.2,
     1.0, -2.5, 0.3, 0.0, 1.0, -0.5, -0.3, 0.5, -0.5, 0.0,
     0.0, 0.1, 0.0, 0.1, 0.0, 0.0, 0.0, 0.1, 0.0, 0.2],
    [0.3, 1.5, 3.0, -1.0, 5.5, -1.5, 1.5, -3.5, 1.2, 0.8,
     0.5, 0.3, 0.5, 0.3, 0.2, 0.1, 0.3, 0.2, 0.0, 0.0,
     0.0, 0.1, 0.0, 0.0, -0.5, -0.3, -0.2, -0.5, -0.8, -3.0,
     0.5, 1.0, -0.3, 0.0, -0.3, -0.2, -0.5, -0.3, 0.0, -0.3,
     -0.2, -0.1, -0.3, -0.2, -0.1, -0.2, -0.1, -0.2, -0.1, 0.0],
    [0.0, -0.3, 0.2, -0.2, 0.0, 0.2, 0.0, -0.2, 0.1, 0.0,
     0.0, 0.1, 0.0, 0.0, 0.1, 0.0, 0.0, 0.0, 0.0, 0.0,
     0.0, 0.0, 0.0, 0.0, 0.0, 0.0, 0.0, 0.0, 0.0, 0.0,
     0.0, 0.0, 0.0, 0.0, 0.0, 0.0, 0.0, 0.0, 0.0, 0.0,
     0.0, 0.0, 0.0, 0.0, 0.0, 0.0, 0.0, 0.0, 0.0, 0.0],
    [-0.2, 3.0, 1.0, -2.0, 2.0, -1.0, -2.5, 1.2, -1.5, -1.0,
     1.2, -0.8, 0.5, 0.4, 0.2, 0.3, 0.0, 0.1, 0.0, 0.0,
     0.0, 0.0, 0.1, -0.2, -1.0, 0.0, 0.3, -0.5, 0.3, -1.0,
     0.0, -0.2, 0.5, 0.8, 0.3, 0.0, 0.5, 1.8, 0.3, -0.5,
     0.0, 0.2, 0.0, 0.3, 0.0, 0.0, 0.1, 0.0, 0.5, 0.0],
]

# ---------------- Front knee (right column) ----------------
FRONT_KNEE_R_ORANGE = [
    [0.2, 3.0, 3.2, -1.0, 3.6, 1.0, 5.0, -2.5, 1.0, -1.5,
     -0.5, 2.6, 0.2, 0.1, 0.0, 0.1, 0.0, 0.0, 0.0, 0.0,
     0.0, 0.0, 0.0, 0.1, 0.0, 0.0, 0.0, 0.0, 0.1, 0.2,
     0.0, -0.1, 0.0, 0.1, -1.7, 0.0, -1.6, -0.6, -0.2, 0.0,
     0.0, 0.0, -0.9, -0.3, 0.0, 0.0, 0.0, -0.1, -0.3, -1.15],
    [0.0, 2.8, 3.0, 3.2, -2.7, 2.5, -3.2, 4.2, -4.0, -4.1,
     -1.0, -1.1, 0.2, 0.1, 0.0, 0.0, 0.1, 0.0, 0.0, 0.0,
     0.0, 0.0, 0.0, 0.0, 0.1, 0.0, 0.1, 0.0, 0.0, 0.1,
     0.0, 0.2, 0.3, 0.2, 0.0, 0.0, 0.0, -0.1, 0.0, 0.0,
     0.1, 0.0, 0.0, 0.0, 0.0, -0.1, 0.0, 0.0, -0.2, -0.6],
    [0.1, -3.6, -2.5, -5.1, 2.8, -3.6, 3.0, -2.7, 1.0, -5.1,
     0.0, 0.2, 0.1, 0.0, 0.0, 0.1, 0.0, 0.0, 0.0, 0.0,
     0.0, 0.0, 0.0, 0.0, 0.0, 0.0, 0.0, 0.0, 0.0, 0.0,
     0.0, 0.0, 0.0, 0.0, 0.0, 0.0, 0.0, 0.0, 0.0, 0.0,
     0.0, 0.0, 0.0, 0.0, 0.0, 0.0, 0.0, 0.0, 0.0, -0.4],
    [0.0, -3.0, -3.5, 1.2, -2.7, 1.8, -2.0, 2.1, -4.0, -0.3,
     -1.2, 0.3, 0.0, 0.0, 0.1, 0.0, 0.2, 0.1, 0.0, 0.0,
     0.0, 0.0, 0.0, 0.1, 0.2, 0.0, 0.1, 0.0, -0.2, 0.3,
     -0.1, 0.3, 0.0, 0.3, -0.1, 0.0, -0.1, 0.2, 0.0, 0.0,
     0.2, 0.0, 0.1, 0.0, 0.0, 0.0, -0.2, 0.0, 0.0, -0.5],
    [0.2, -1.8, 1.8, 1.7, -2.4, -3.0, 0.9, -4.3, -5.0, 1.0,
     -0.5, 0.0, 0.1, 0.0, 0.0, 0.1, 0.0, 0.0, 0.0, 0.0,
     0.0, 0.0, -0.1, 0.0, 0.0, 0.1, 0.0, -0.1, 0.0, 0.0,
     0.0, -0.1, 0.0, 0.0, 0.0, 0.1, 0.0, -0.1, 0.0, 0.0,
     0.0, 0.0, 0.0, 0.0, 0.0, 0.0, 0.0, 0.0, 0.0, -0.3],
    [0.0, 0.5, -2.8, 2.5, 1.1, 0.8, -1.5, 0.5, -1.2, -2.0,
     0.2, 0.1, 0.3, 0.2, 0.1, 0.0, 0.2, 0.1, 0.0, 0.0,
     0.0, 0.0, 0.0, 0.0, 0.0, 0.0, 0.0, 0.0, 0.0, 0.0,
     0.0, 0.0, 0.0, 0.0, 0.0, 0.0, 0.0, 0.0, 0.0, 0.0,
     0.0, 0.0, 0.0, 0.0, 0.0, 0.0, 0.0, 0.0, 0.0, 0.0],
    [0.1, 0.3, 1.2, -0.2, 1.2, -2.0, 3.1, -0.6, -0.8, -1.5,
     0.0, 0.2, 0.2, 0.1, 0.0, 0.1, 0.0, 0.1, 0.0, 0.0,
     0.0, 0.0, 0.0, 0.0, 0.2, 0.0, -0.1, 0.1, 0.0, 0.1,
     0.0, 0.1, 0.2, 0.1, 0.0, 0.0, -0.1, 0.0, 0.0, 0.0,
     0.0, 0.0, 0.0, 0.0, 0.0, -0.1, 0.0, 0.0, -0.1, -0.2],
    [0.0, 0.2, 0.0, 0.3, -0.5, 0.5, -0.3, 0.2, 0.0, 0.0,
     0.1, 0.0, 0.0, 0.0, 0.0, 0.0, 0.0, 0.0, 0.0, 0.0,
     0.0, 0.0, 0.0, 0.0, 0.0, 0.0, 0.0, 0.0, 0.0, 0.0,
     0.0, 0.0, 0.0, 0.0, 0.0, 0.0, 0.0, 0.0, 0.0, 0.0,
     0.0, 0.0, 0.0, 0.0, 0.0, 0.0, 0.0, 0.0, 0.0, 0.0],
    [0.1, 0.4, -0.3, 0.6, -0.8, 1.0, 0.3, -0.5, 0.6, -0.6,
     -0.2, 0.1, 0.15, 0.1, 0.05, 0.1, 0.05, 0.05, 0.0, 0.0,
     0.0, -0.02, 0.0, 0.05, -0.05, 0.08, 0.0, 0.05, -0.1, 0.15,
     -0.05, 0.1, 0.15, -0.05, 0.05, 0.0, -0.05, 0.05, -0.08, -0.05,
     0.05, 0.0, 0.05, 0.0, -0.03, -0.05, -0.05, 0.0, -0.1, -0.25],
    [-0.1, 0.2, 0.5, -0.4, 0.3, -0.3, 0.6, 0.2, -0.4, -0.2,
     0.1, 0.05, 0.0, 0.05, 0.1, 0.05, 0.0, 0.05, 0.05, 0.0,
     0.0, 0.0, 0.03, -0.05, 0.1, -0.05, 0.05, 0.1, 0.0, -0.05,
     0.1, -0.1, 0.05, 0.0, -0.05, -0.1, 0.05, -0.1, -0.05, 0.0,
     -0.05, 0.0, -0.03, 0.05, -0.05, 0.0, -0.1, -0.05, -0.15, -0.4],
    [0.0, -0.2, 0.3, 0.8, -1.0, 0.4, -0.8, 1.0, 0.5, -1.4,
     0.2, 0.0, 0.1, 0.05, 0.0, 0.0, 0.05, 0.0, 0.02, 0.0,
     -0.02, 0.0, -0.05, 0.0, 0.05, 0.0, 0.1, -0.05, 0.2, -0.1,
     0.05, -0.05, 0.1, 0.05, 0.0, 0.05, -0.1, -0.05, 0.0, 0.05,
     0.1, 0.05, 0.1, 0.0, 0.0, 0.05, 0.0, 0.05, 0.0, 0.05],
]

# ---------------- Front knee (left column) ----------------
FRONT_KNEE_L_ORANGE = [
    [0.0, -0.3, 0.3, 0.6, 2.1, 3.0, 2.0, 0.0, 0.2, 0.1,
     0.0, 0.0, 0.0, 0.0, 0.0, 0.2, 2.4, 1.2, -0.4, 0.0,
     0.0, 0.1, 0.0, 0.1, 2.2, 7.6, 0.5, 0.0, 3.0, 5.6,
     0.0, 0.5, 2.0, 3.8, 0.0, 4.3, 3.2, 1.5, 0.5, 0.2,
     0.1, 0.0, 0.0, 0.0, 0.0, 0.0, 0.0, 0.0, 0.2, 2.3],
    [-0.1, 0.0, 0.2, 0.5, 1.8, 2.3, 1.9, 0.0, 0.1, 0.0,
     0.0, 0.0, 0.0, 0.0, 0.0, 0.3, 2.2, 1.0, 0.2, 0.0,
     0.0, 0.0, 0.1, 0.0, 0.5, 5.4, 2.5, 5.8, 1.0, 4.4,
     0.5, 4.3, 0.5, 0.8, 4.6, 2.0, 2.5, 2.4, 1.0, 0.5,
     0.2, 0.1, 0.0, 0.0, 0.0, 0.0, 0.0, 0.1, 0.3, 1.2],
    [0.0, -0.6, 0.5, -0.2, 0.3, 0.6, -0.5, 0.4, 0.6, -0.1,
     0.1, 0.2, 0.0, -0.2, 0.1, -0.5, 0.1, 0.0, -0.3, 0.2,
     0.0, -0.3, 0.1, -0.5, 0.0, 1.5, 1.0, -1.0, -1.2, -1.3,
     -1.2, 2.5, -0.5, 1.5, 2.2, 1.2, 0.3, 2.4, 0.5, 0.3,
     0.0, 0.0, -0.6, -0.4, -0.3, -0.2, 0.0, 0.0, 0.2, 0.8],
    [-0.1, -0.3, -0.2, 0.0, -0.4, 0.1, 0.0, -0.2, -0.1, -0.2,
     0.0, -0.1, -0.1, -0.2, -0.2, -0.1, -0.2, -0.1, -0.2, -0.1,
     -0.1, -0.2, -0.1, -0.3, -0.8, 2.1, 1.0, 2.9, 3.0, 2.9,
     2.8, 1.5, 2.0, 0.5, 2.3, 2.2, 0.5, 1.5, 0.8, 0.5,
     0.2, 0.0, 0.0, 0.0, 0.0, 0.0, 0.0, 0.0, 0.2, 0.6],
    [0.1, -0.1, 0.0, 0.1, 0.0, 0.1, 0.0, -0.1, 0.0, 0.0,
     0.0, 0.0, 0.0, 0.0, 0.0, 0.0, 0.0, 0.0, 0.0, 0.0,
     0.0, 0.0, 0.0, 0.0, 0.0, 0.0, 0.0, 0.0, 0.0, 0.0,
     0.0, 0.0, 0.0, 0.0, 0.0, 0.0, 0.0, 0.0, 0.0, 0.0,
     0.0, 0.0, 0.0, 0.0, 0.0, 0.0, 0.0, 0.0, 0.0, 0.1],
    [0.0, 0.1, -0.3, 0.2, 0.0, 0.5, 0.0, 0.3, 0.0, 0.1,
     0.0, 0.1, 0.0, 0.0, 0.1, 0.0, 0.3, 0.4, 0.0, -0.2,
     -0.2, -0.4, -0.5, -0.3, -0.6, 1.2, 2.6, 1.0, 3.1, 2.0,
     3.7, 0.5, 2.0, 2.6, 2.3, 1.0, 0.5, 2.0, 0.8, 0.3,
     0.1, 0.0, 0.0, 0.0, 0.0, 0.0, 0.0, 0.0, 0.1, 0.5],
    [-0.1, 0.0, 0.1, -0.1, 0.0, -0.2, 0.0, 0.0, -0.1, 0.0,
     0.0, 0.0, 0.0, 0.0, 0.0, 0.0, 0.0, 0.0, 0.0, 0.0,
     0.0, -0.1, 0.0, 0.0, 0.2, 0.5, -0.5, -1.25, -1.25, -1.3,
     -1.0, -0.5, 0.5, -1.05, 0.0, 1.2, 2.1, 0.0, 0.2, 0.0,
     0.0, 0.0, 0.0, 0.0, 0.0, 0.0, 0.0, 0.0, 0.0, 0.3],
    [0.0, 0.0, 0.0, 0.0, 0.0, 0.0, 0.0, 0.0, 0.0, 0.0,
     0.0, 0.0, 0.0, 0.0, 0.0, 0.0, 0.0, 0.0, 0.0, 0.0,
     0.0, 0.0, 0.0, 0.2, 0.0, 1.0, 1.8, 0.0, 0.5, 2.9,
     1.0, 0.0, 1.8, 2.5, 1.0, 4.0, 2.5, 0.0, 0.0, 0.0,
     0.0, 0.0, 0.0, 0.0, 0.0, 0.0, 0.0, 0.0, 0.0, 0.0],
    [0.05, -0.2, 0.0, 0.2, 0.1, -0.1, 0.2, -0.3, 0.1, -0.15,
     -0.1, 0.0, -0.1, -0.05, -0.1, -0.2, -0.1, -0.15, -0.2, -0.1,
     -0.2, -0.3, -0.4, -0.3, -0.5, 0.2, -0.2, 0.3, -0.6, 0.5,
     -0.8, 0.5, -0.6, -0.9, 0.4, -0.5, -0.3, -0.2, 0.1, 0.0,
     -0.1, -0.2, -0.1, -0.3, -0.2, -0.1, -0.05, 0.0, 0.05, 0.3],
    [-0.15, 0.1, -0.1, 0.1, 0.3, 0.0, 0.4, -0.1, 0.0, 0.1,
     0.05, 0.1, 0.0, 0.05, 0.0, 0.1, 0.3, 0.1, 0.0, 0.1,
     0.0, 0.05, 0.1, 0.2, 0.3, 1.8, 0.4, 1.5, 1.7, 1.0,
     1.9, 1.8, 0.3, 2.1, 2.3, 1.1, 0.4, 0.9, 0.6, 0.2,
     0.1, 0.05, 0.1, 0.05, 0.0, 0.05, 0.1, 0.05, 0.2, 0.9],
    [0.0, 0.05, -0.1, 0.0, 0.1, -0.05, 0.0, 0.05, 0.0, -0.05,
     0.0, -0.05, 0.0, 0.0, -0.05, 0.0, -0.05, 0.0, -0.05, 0.0,
     -0.05, 0.0, -0.1, 0.0, -0.3, 0.8, -0.3, 0.6, -0.8, 1.3,
     -0.6, 1.0, -1.0, 0.7, -0.4, 1.4, 0.2, -0.3, 0.1, 0.0,
     0.0, 0.05, 0.0, 0.05, 0.0, 0.0, 0.05, 0.0, 0.05, 0.1],
]

# ---------------- Back calf ----------------
BACK_CALF_ORANGE = [
    [0.0, 0.05, 0.0, 0.0, -0.9, -0.7, -0.5, 0.0, 0.0, 0.0,
     0.0, 0.0, 0.0, 0.0, 0.0, 0.0, -0.4, 0.35, 0.0, 0.0,
     0.2, -0.1, 0.0, 0.0, -3.4, -2.8, 0.6, -2.5, -1.5, -3.7,
     0.5, 1.4, 0.0, -2.9, -4.0, 0.0, 0.2, 0.1, 0.0, 0.0,
     0.0, 0.0, 0.0, 0.0, 0.0, 0.0, 0.0, 0.0, 0.0, 0.72],
    [0.0, 0.0, 0.05, 0.0, -0.6, -0.2, -0.7, 0.0, 0.0, 0.0,
     0.0, 0.0, 0.0, 0.0, 0.0, 0.0, -0.2, 0.0, 0.0, 0.0,
     0.0, 0.0, 0.0, 0.05, -1.6, -2.5, -3.1, 0.5, -2.2, 0.0,
     -1.5, 0.8, -2.6, -2.2, -1.5, -4.1, -2.5, -2.3, 0.0, 0.0,
     0.0, 0.0, 0.0, 0.0, 0.0, 0.0, 0.0, 0.0, 0.0, 0.4],
    [0.0, 0.0, 0.0, 0.0, 0.0, 0.1, 0.0, 0.0, 0.0, 0.0,
     0.0, 0.0, 0.0, 0.0, 0.0, 0.0, 0.0, 0.0, 0.0, 0.0,
     0.0, 0.0, 0.0, 0.0, -2.0, -2.4, -2.8, -2.8, -1.3, -1.3,
     -1.8, -2.0, -2.4, -0.5, -2.0, -2.3, -1.2, -0.2, 0.0, 0.0,
     0.0, 0.0, 0.0, 0.0, 0.0, 0.0, 0.0, 0.0, 0.0, 0.2],
    [0.0, 0.0, 0.05, 0.0, 0.0, 0.0, 0.0, 0.0, 0.0, 0.0,
     0.0, 0.0, 0.0, 0.0, 0.0, 0.05, 0.0, 0.0, 0.0, 0.0,
     0.0, 0.0, 0.0, 0.05, -0.8, 0.1, -1.0, -1.3, -0.3, -0.4,
     0.7, -1.5, -2.9, -2.5, -2.6, -1.8, 0.2, 0.0, 0.1, 0.0,
     0.0, 0.0, 0.0, 0.0, 0.0, 0.0, 0.0, 0.0, 0.0, 0.1],
    [0.0, 0.05, -0.05, 0.05, 0.0, 0.0, 0.0, 0.0, 0.0, 0.0,
     0.0, 0.0, 0.0, 0.0, 0.0, 0.0, 0.0, 0.0, 0.0, 0.0,
     0.0, 0.0, 0.0, 0.0, 0.0, 0.0, 0.0, 0.0, 0.0, 0.0,
     0.0, 0.0, 0.0, 0.0, 0.0, 0.0, 0.0, 0.0, 0.0, 0.0,
     0.0, 0.0, 0.0, 0.0, 0.0, 0.0, 0.0, 0.0, 0.0, 0.0],
    [0.0, 0.0, 0.0, 0.0, 0.0, 0.0, 0.0, 0.0, 0.0, 0.0,
     0.0, 0.0, 0.0, 0.0, 0.0, 0.0, 0.0, 0.0, 0.0, 0.0,
     0.0, 0.0, 0.0, 0.0, -2.7, -2.7, -2.1, -2.3, -2.0, -1.8,
     -1.7, -2.0, -2.7, -3.0, -2.4, -2.3, -2.5, -2.3, 0.3, 0.0,
     0.0, 0.0, 0.0, 0.0, 0.0, 0.0, 0.0, 0.0, 0.0, 0.3],
    [0.0, 0.0, 0.0, 0.0, 0.0, 0.0, 0.0, 0.0, 0.0, 0.0,
     0.0, 0.0, 0.0, 0.0, 0.0, 0.0, 0.0, 0.0, 0.0, 0.0,
     0.0, 0.0, 0.0, 0.0, 0.3, -1.5, -0.2, -1.6, -1.0, -1.5,
     -1.9, -1.2, -0.5, -1.3, 0.0, -1.1, 0.1, 0.0, 0.0, 0.0,
     0.0, 0.0, 0.0, 0.0, 0.0, 0.0, 0.0, 0.0, 0.0, 0.0],
    [0.02, -0.05, 0.05, -0.05, 0.0, -0.1, 0.05, -0.05, 0.0, 0.0,
     0.0, 0.0, 0.02, 0.0, 0.0, 0.02, 0.0, 0.0, 0.0, -0.05,
     0.0, 0.0, 0.05, 0.05, 0.1, -0.1, 0.1, -0.2, 0.05, -0.1,
     0.1, -0.05, -0.1, 0.05, -0.05, 0.0, 0.15, 0.1, 0.05, 0.05,
     0.02, 0.0, 0.0, 0.0, 0.0, 0.0, 0.0, 0.0, -0.05, -0.1],
    [0.0, 0.03, 0.0, 0.05, 0.02, 0.0, 0.0, -0.03, 0.0, 0.0,
     0.0, 0.0, 0.0, 0.0, 0.0, 0.0, 0.0, 0.0, 0.0, 0.0,
     0.0, 0.0, 0.0, 0.0, -1.9, -2.2, -1.5, -2.0, -1.3, -1.8,
     -2.2, -1.7, -2.6, -2.0, -2.3, -2.4, -1.2, 0.1, 0.1, 0.05,
     0.0, 0.0, 0.0, 0.0, 0.0, 0.0, 0.0, 0.0, 0.0, 0.15],
    [0.0, 0.0, 0.0, 0.0, 0.0, 0.0, 0.0, 0.0, 0.0, 0.0,
     0.0, 0.0, 0.0, 0.0, 0.0, 0.0, 0.0, 0.0, 0.0, 0.0,
     0.0, 0.0, 0.0, 0.0, 0.1, -0.5, 0.0, -0.8, 0.1, -1.2,
     0.0, -0.5, -1.0, 0.2, -0.8, -1.6, 0.0, 0.1, 0.0, 0.0,
     0.0, 0.0, 0.0, 0.0, 0.0, 0.0, 0.0, 0.0, 0.0, 0.05],
]

# Threshold levels per panel: (value, colour, linestyle)
SPINE_SPINE_LIMITS = [(5.68, GREEN, "-"), (-6.14, GREEN, "-"),
                      (5.75, RED, "-"), (-5.02, RED, "-"),
                      (3.9, ORANGE, "-"), (-4.69, ORANGE, "-")]
SPINE_TAIL_LIMITS = [(1.60, GREEN, "-"), (-1.80, GREEN, "-"),
                     (1.86, ORANGE, "-"), (-2.08, ORANGE, "-")]
TAIL_TAIL_LIMITS = [(0.68, GREEN, "-"), (-0.625, GREEN, "-"),
                    (1.578, ORANGE, "-"), (-1.81, ORANGE, "-")]
BACK_HIP_LIMITS = [(3.71, GREEN, "-"), (-3.45, GREEN, "-"),
                   (4.06, GREEN, "--"), (-3.02, GREEN, "--"),
                   (4.9, ORANGE, "-"), (-4.99, ORANGE, "-"),
                   (5.36, ORANGE, "--"), (-4.34, ORANGE, "--")]
FRONT_HIP_LIMITS = [(7.69, GREEN, "-"), (-2.08, GREEN, "-"),
                    (5.13, ORANGE, "-"), (-2.22, ORANGE, "-"),
                    (4.44, GREEN, "--"), (-2.25, GREEN, "--"),
                    (2.80, ORANGE, "--"), (-4.12, ORANGE, "--")]
FRONT_KNEE_R_LIMITS = [(3.5, ORANGE, "-"), (-3.42, ORANGE, "-"),
                       (1.61, ORANGE, "--"), (-4.08, ORANGE, "--")]
FRONT_KNEE_L_LIMITS = [(4.02, ORANGE, "-"), (-0.90, ORANGE, "-"),
                       (4.98, ORANGE, "--"), (-0.98, ORANGE, "--")]
BACK_CALF_LIMITS = [(0.37, ORANGE, "-"), (-3.23, ORANGE, "-"),
                    (0.62, ORANGE, "--"), (-3.09, ORANGE, "--")]

PANEL_TRACES = [
    [(SPINE_SPINE_GREEN, GREEN), (SPINE_SPINE_RED, RED), (SPINE_SPINE_ORANGE, ORANGE)],
    [(SPINE_TAIL_GREEN, GREEN), (SPINE_TAIL_ORANGE, ORANGE)],
    [(TAIL_TAIL_GREEN, GREEN), (TAIL_TAIL_ORANGE, ORANGE)],
    [(BACK_HIP_GREEN, GREEN), (BACK_HIP_ORANGE, ORANGE)],
    [(FRONT_HIP_GREEN, GREEN), (FRONT_HIP_ORANGE, ORANGE)],
    [(FRONT_KNEE_R_ORANGE, ORANGE)],
    [(FRONT_KNEE_L_ORANGE, ORANGE)],
    [(BACK_CALF_ORANGE, ORANGE)],
]
PANEL_LIMITS = [SPINE_SPINE_LIMITS, SPINE_TAIL_LIMITS, TAIL_TAIL_LIMITS,
                BACK_HIP_LIMITS, FRONT_HIP_LIMITS, FRONT_KNEE_R_LIMITS,
                FRONT_KNEE_L_LIMITS, BACK_CALF_LIMITS]


def long_table(traces):
    frames, values, trials = [], [], []
    for i, trace in enumerate(traces):
        frames.extend(range(len(trace)))
        values.extend(trace)
        trials.extend([i] * len(trace))
    return pd.DataFrame({"frame": frames, "angle": values, "trial": trials})


sns.set_style("whitegrid")
plt.rcParams.update({
    "font.family": ["DejaVu Sans"],
    "xtick.bottom": True, "ytick.left": True,
    "xtick.major.size": 3, "ytick.major.size": 3,
    "xtick.major.width": 1, "ytick.major.width": 1,
    "xtick.color": "#262626", "ytick.color": "#262626",
    "xtick.major.pad": 5, "ytick.major.pad": 5,
    "xtick.labelsize": 10.5, "ytick.labelsize": 10.5,
    "grid.color": "#d4d4d4",
})

fig = plt.figure(figsize=(10.53, 15.91), dpi=100)
gs = fig.add_gridspec(4, 2, left=0.0538, right=0.9991, top=0.9776, bottom=0.0166,
                      wspace=0.1168, hspace=0.197, width_ratios=[467.6, 472.8])

for k in range(8):
    ax = fig.add_subplot(gs[k // 2, k % 2])
    for traces, color in PANEL_TRACES[k]:
        sns.lineplot(data=long_table(traces), x="frame", y="angle", units="trial",
                     estimator=None, color=color, linewidth=1.1, ax=ax,
                     legend=False, sort=False)
    for value, color, style in PANEL_LIMITS[k]:
        ax.axhline(value, color=color, linestyle=style, linewidth=1.2)
    ax.set_title(TITLES[k], fontsize=12.5, color="#262626")
    ax.set_xlabel("")
    ax.set_ylabel("")
    ax.xaxis.set_major_locator(MultipleLocator(10))
    ax.yaxis.set_major_locator(MultipleLocator(Y_STEPS[k]))
    sns.despine(ax=ax, left=True, bottom=True)

fig.savefig("out.png", dpi=100)
